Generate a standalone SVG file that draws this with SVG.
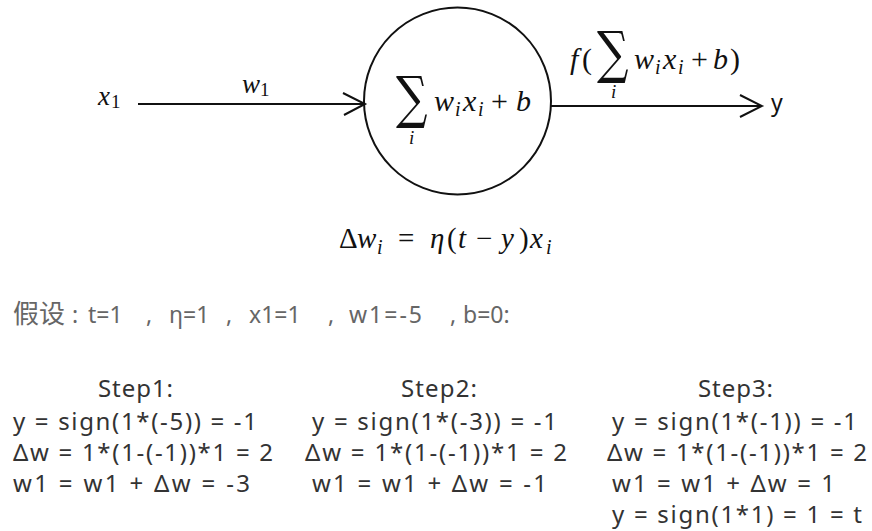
<svg xmlns="http://www.w3.org/2000/svg" width="872" height="531" viewBox="0 0 872 531">
<style>
.m{font-family:"Liberation Serif","DejaVu Serif",serif;font-style:italic;fill:#111;}
.mu{font-family:"Liberation Serif","DejaVu Serif",serif;font-style:normal;fill:#111;}
.up{font-style:normal;}
.sig{font-family:"DejaVu Serif","Liberation Serif",serif;font-style:normal;fill:#111;}
.st{font-family:"Noto Sans","Open Sans","DejaVu Sans",sans-serif;font-size:24px;fill:#333;}
.as{font-family:"Noto Sans","Noto Sans CJK SC",sans-serif;font-size:23px;fill:#666;}
.ln{stroke:#111;stroke-width:2;fill:none;}
</style>
<rect width="872" height="531" fill="#ffffff"/>

<g id="connectors">
  <line class="ln" x1="138" y1="104" x2="364" y2="104"/>
  <polyline class="ln" points="343,93 365,104 344,115"/>
  <line class="ln" x1="551" y1="106" x2="761" y2="106"/>
  <polyline class="ln" points="740,95 762,106 740,117"/>
</g>

<g id="input-x1">
  <text class="m" font-size="27" x="98" y="105">x</text>
  <text class="mu" font-size="19" x="111" y="108">1</text>
  <text class="m" font-size="27" x="242" y="93">w</text>
  <text class="mu" font-size="19" x="260" y="96">1</text>
</g>

<g id="neuron">
  <circle cx="457.5" cy="101" r="93.5" fill="none" stroke="#111" stroke-width="2"/>
  <text class="sig" font-size="52" transform="translate(396,117) scale(0.85,1.1)">∑</text>
  <text class="m" font-size="19" x="409" y="144">i</text>
  <text class="m" font-size="30" y="111"><tspan x="434">w</tspan><tspan x="455" dy="5" font-size="20">i</tspan><tspan x="463" dy="-5">x</tspan><tspan x="478" dy="5" font-size="20">i</tspan><tspan class="up" x="491" dy="-5">+</tspan><tspan x="516">b</tspan></text>
</g>

<g id="output-y">
  <text class="m" font-size="30" y="69"><tspan x="570">f</tspan><tspan class="up" x="582">(</tspan></text>
  <text class="sig" font-size="52" transform="translate(597,72) scale(0.85,1.1)">∑</text>
  <text class="m" font-size="19" x="611" y="98">i</text>
  <text class="m" font-size="30" y="69"><tspan x="634">w</tspan><tspan x="655" dy="5" font-size="20">i</tspan><tspan x="663" dy="-5">x</tspan><tspan x="678" dy="5" font-size="20">i</tspan><tspan class="up" x="691" dy="-5">+</tspan><tspan x="713">b</tspan><tspan class="up" x="730">)</tspan></text>
  <text font-family="Noto Sans, Open Sans, sans-serif" font-size="23" fill="#111" x="771" y="111">y</text>
</g>

<g id="update-rule">
  <text class="m" font-size="29" y="248"><tspan class="up" x="339">Δ</tspan><tspan x="357">w</tspan><tspan x="377" dy="6" font-size="20">i</tspan><tspan class="up" x="398" dy="-6">=</tspan><tspan x="430">η</tspan><tspan class="up" x="447">(</tspan><tspan x="458">t</tspan><tspan class="up" x="476">−</tspan><tspan x="501">y</tspan><tspan class="up" x="519">)</tspan><tspan x="530">x</tspan><tspan x="546" dy="6" font-size="20">i</tspan></text>
</g>

<g id="assumptions">
  <text class="as" y="323"><tspan x="13" font-family="Noto Sans CJK SC, sans-serif" font-size="26">假设</tspan><tspan x="72">:</tspan><tspan x="88">t=1</tspan><tspan x="146">,</tspan><tspan x="169">η=1</tspan><tspan x="226">,</tspan><tspan x="249">x1=1</tspan><tspan x="328">,</tspan><tspan x="349" letter-spacing="2">w1=-5</tspan><tspan x="450">,</tspan><tspan x="463">b=0:</tspan></text>
</g>

<g id="step1">
  <text class="st" x="98" y="397" textLength="75" lengthAdjust="spacing">Step1:</text>
  <text class="st" x="13" y="430" textLength="244" lengthAdjust="spacing">y = sign(1*(-5)) = -1</text>
  <text class="st" x="13" y="461" textLength="260" lengthAdjust="spacing">Δw = 1*(1-(-1))*1 = 2</text>
  <text class="st" x="13" y="492" textLength="237" lengthAdjust="spacing">w1 = w1 + Δw = -3</text>
</g>

<g id="step2">
  <text class="st" x="401" y="397" textLength="76" lengthAdjust="spacing">Step2:</text>
  <text class="st" x="312" y="430" textLength="245" lengthAdjust="spacing">y = sign(1*(-3)) = -1</text>
  <text class="st" x="305" y="461" textLength="262" lengthAdjust="spacing">Δw = 1*(1-(-1))*1 = 2</text>
  <text class="st" x="312" y="492" textLength="235" lengthAdjust="spacing">w1 = w1 + Δw = -1</text>
</g>

<g id="step3">
  <text class="st" x="698" y="397" textLength="75" lengthAdjust="spacing">Step3:</text>
  <text class="st" x="612" y="430" textLength="245" lengthAdjust="spacing">y = sign(1*(-1)) = -1</text>
  <text class="st" x="607" y="461" textLength="260" lengthAdjust="spacing">Δw = 1*(1-(-1))*1 = 2</text>
  <text class="st" x="612" y="492" textLength="223" lengthAdjust="spacing">w1 = w1 + Δw = 1</text>
  <text class="st" x="612" y="523" textLength="250" lengthAdjust="spacing">y = sign(1*1) = 1 = t</text>
</g>
</svg>
